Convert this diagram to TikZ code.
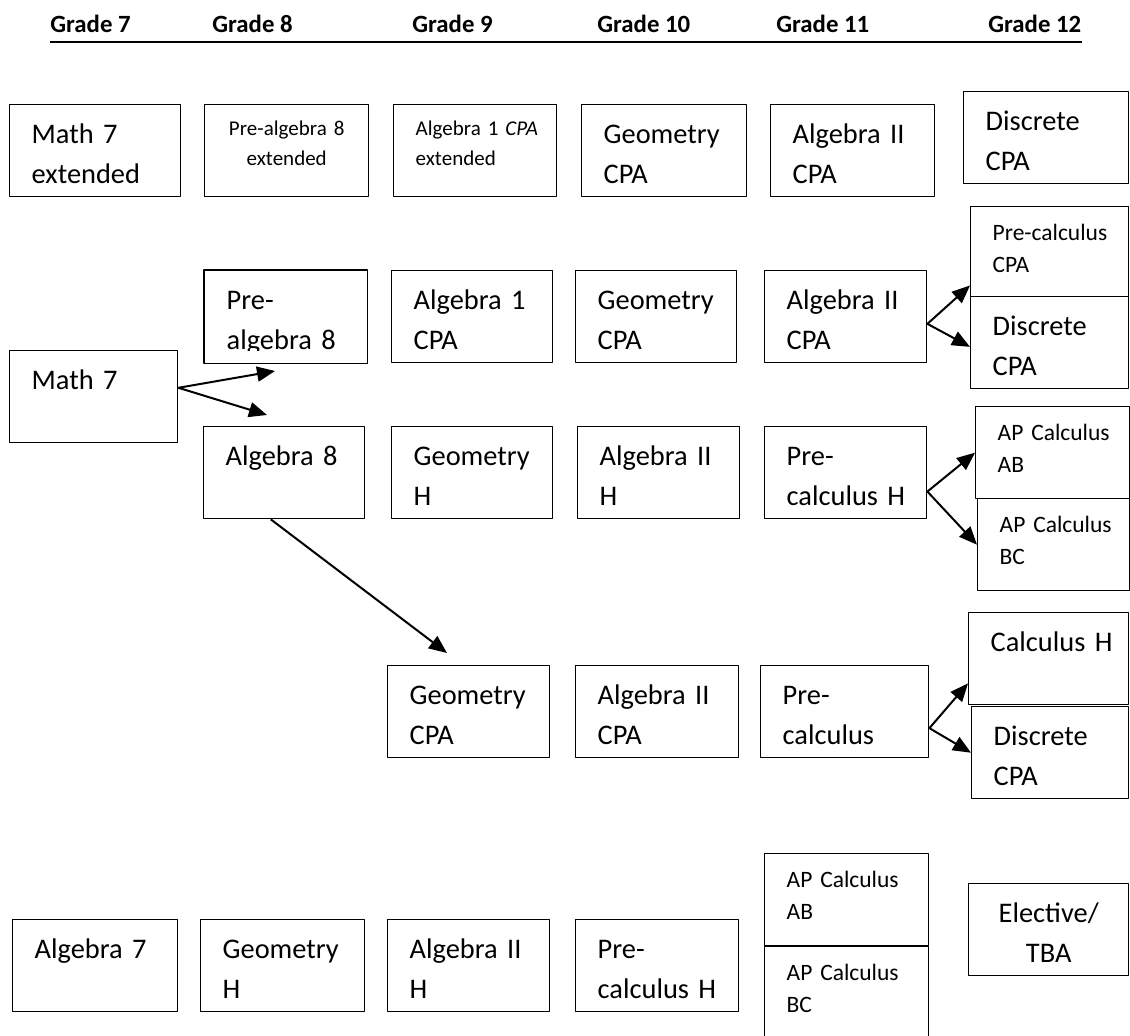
\documentclass[tikz,border=0pt]{standalone}
\usepackage{fontspec}
\setmainfont{Carlito}
\usetikzlibrary{arrows.meta}
\begin{document}
\begin{tikzpicture}[x=0.5pt,y=-0.5pt,>={Triangle[length=9pt,width=7.5pt]},line join=round,
  every node/.style={inner sep=0pt},
  course/.style={draw,line width=0.7pt,anchor=north west,text width=#1,
    execute at begin node={\leftskip=11pt\rightskip=0pt plus 1fil\hyphenpenalty=10000\exhyphenpenalty=10000},
    font=\fontsize{14.2}{20}\selectfont,text height=19.5pt,text depth=26.5pt},
  course/.default=81pt,
  apsize/.style={font=\fontsize{11.75}{16}\selectfont,text height=17pt,text depth=29pt},
  extsize/.style={font=\fontsize{10.5}{15}\selectfont,text height=15.5pt,text depth=30.5pt},
  mid/.style={execute at begin node=\centering},
  grade/.style={anchor=base west,font=\bfseries\fontsize{12.4}{15}\selectfont},
  flow/.style={->,line width=1pt}]
\useasboundingbox (0,0) rectangle (1130,1036);
% grades
\node[grade] (g7) at (50,33) {Grade 7};
\node[grade] (g8) at (212,33) {Grade 8};
\node[grade] (g9) at (412,33) {Grade 9};
\node[grade] (g10) at (597,33) {Grade 10};
\node[grade] (g11) at (776,33) {Grade 11};
\node[grade] (g12) at (988,33) {Grade 12};
\draw[line width=1.4pt] ([yshift=-4.5pt]g7.base west) -- ([yshift=-4.5pt]g12.base east);
% extended track
\node[course=85.5pt] (m7x) at (9,104) {Math 7\\extended};
\node[course=82pt,extsize,mid] (pa8x) at (204,104) {Pre-algebra 8\\extended};
\node[course=81.5pt,extsize] (a1x) at (393,104) {Algebra 1 \textit{CPA}\\extended};
\node[course=82.5pt] (gcx) at (581,104) {Geometry\\CPA};
\node[course=82pt] (a2x) at (770,104) {Algebra II\\CPA};
\node[course=82.5pt] (dx) at (963,91) {Discrete\\CPA};
% math 7 track
\begin{scope}
  \clip (198,262) rectangle (372,351);
  \node[course,draw=none] (pa8) at (204,270) {Pre-\\algebra 8};
\end{scope}
\draw[line width=0.7pt] (pa8.north west) rectangle (pa8.south east);
\node[course=80.5pt] (a1) at (391,270) {Algebra 1\\CPA};
\node[course=80.5pt] (gc) at (575,270) {Geometry\\CPA};
\node[course] (a2c) at (764,270) {Algebra II\\CPA};
\node[course=79pt,apsize,text depth=28pt] (pcc) at (970,206) {Pre-calculus\\CPA};
\node[course=79pt] (dcc) at (970,296) {Discrete\\CPA};
\node[course=84pt] (m7) at (9,350) {Math 7};
\node[course=80.5pt] (a8) at (203,426) {Algebra 8};
\node[course=80.5pt] (gh) at (391,426) {Geometry\\H};
\node[course] (a2h) at (577,426) {Algebra II\\H};
\node[course] (pch) at (764,426) {Pre-\\calculus H};
\node[course=76.75pt,apsize] (apab) at (975,406) {AP Calculus\\AB};
\node[course=75.75pt,apsize] (apbc) at (977,498) {AP Calculus\\BC};
\node[course] (gcd) at (387,665) {Geometry\\CPA};
\node[course=81.5pt] (a2d) at (575,665) {Algebra II\\CPA};
\node[course=84pt] (pcd) at (760,665) {Pre-\\calculus};
\node[course=80pt] (calch) at (968,612) {Calculus H};
\node[course=78.5pt] (dcd) at (971,706) {Discrete\\CPA};
\coordinate (t1) at (275,371);
\coordinate (t2) at (267,415);
\coordinate (t3) at (447,653);
\draw[flow] (m7.6) -- (t1);
\draw[flow] (m7.6) -- (t2);
\draw[flow] (a8.-106) -- (t3);
\draw[flow] (a2c.-5) -- (pcc.203);
\draw[flow] (a2c.-5) -- (dcc.183);
\draw[flow] (pch.-13) -- (apab.west);
\draw[flow] (pch.-13) -- (apbc.west);
\draw[flow] (pcd.-11) -- (calch.197);
\draw[flow] (pcd.-11) -- (dcd.west);
% algebra 7 track
\node[course=82.5pt] (a7) at (12,919) {Algebra 7};
\node[course=82pt] (ghe) at (200,919) {Geometry\\H};
\node[course] (a2he) at (387,919) {Algebra II\\H};
\node[course=81.5pt] (pche) at (575,919) {Pre-\\calculus H};
\node[course=82pt,apsize] (abe) at (764,853) {AP Calculus\\AB};
\node[course=82pt,apsize,text depth=32pt] (bce) at (764,946) {AP Calculus\\BC};
\node[course=80pt,mid] (elec) at (968,883) {Elective/\\TBA};
\end{tikzpicture}
\end{document}
